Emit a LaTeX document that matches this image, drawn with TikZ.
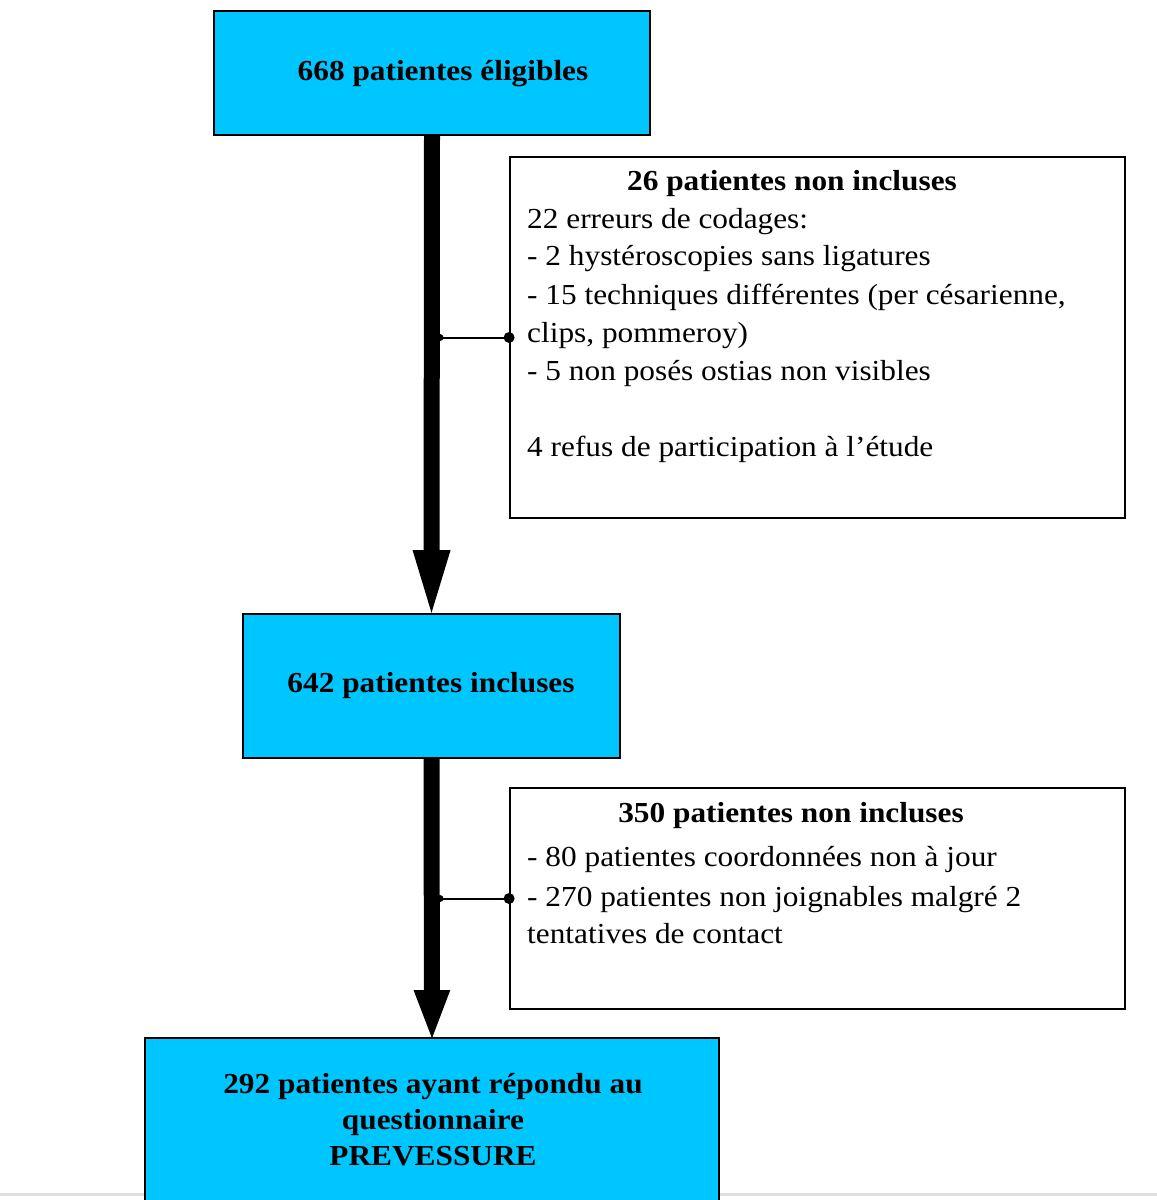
\documentclass[tikz,border=0pt]{standalone}
\usepackage{graphicx}
\usepackage{fontspec}
\setmainfont{Liberation Serif}
\usetikzlibrary{arrows.meta}
\definecolor{boxblue}{RGB}{0,198,255}
\definecolor{pagegrey}{RGB}{222,222,222}
\newcommand{\hstr}[1]{\scalebox{1.08}[1]{#1}}
\begin{document}
\begin{tikzpicture}[x=1pt,y=-1pt,
  bluebox/.style={draw=black, line width=1.8pt, fill=boxblue, inner sep=0pt},
  whitebox/.style={draw=black, line width=1.8pt, fill=white, inner sep=0pt},
  txt/.style={font=\fontsize{29}{37.8}\selectfont, inner sep=0pt, anchor=base west},
  btxt/.style={font=\fontsize{29}{37.8}\selectfont\bfseries, inner sep=0pt, anchor=base},
  flow/.style={line width=16pt},
  link/.style={line width=2pt}]
\useasboundingbox (0,0) rectangle (1157,1200);
\clip (0,0) rectangle (1157,1200);
\fill[white] (0,0) rectangle (1157,1200);
\draw[pagegrey, line width=3pt] (0,1194) -- (1157,1194);

% boxes
\node[bluebox, minimum width=436pt, minimum height=124pt] (b1) at (432,73) {};
\node[whitebox, minimum width=615pt, minimum height=361pt] (b2) at (817.5,337.5) {};
\node[bluebox, minimum width=377pt, minimum height=144pt] (b3) at (431.5,686) {};
\node[whitebox, minimum width=615pt, minimum height=221pt] (b4) at (817.5,898.5) {};
\node[bluebox, minimum width=574pt, minimum height=210pt] (b5) at (432,1143) {};

% texts
\node[btxt] (t1) at (443,80) {\hstr{668 patientes éligibles}};
\node[btxt] (t2h) at (792,190) {\hstr{26 patientes non incluses}};
\node[txt] (t2a) at (527,228) {\hstr{22 erreurs de codages:}};
\node[txt] (t2b) at (527,265) {\hstr{- 2 hystéroscopies sans ligatures}};
\node[txt] (t2c) at (527,304) {\hstr{- 15 techniques différentes (per césarienne,}};
\node[txt] (t2d) at (527,342) {\hstr{clips, pommeroy)}};
\node[txt] (t2e) at (527,380) {\hstr{- 5 non posés ostias non visibles}};
\node[txt] (t2f) at (527,456) {\hstr{4 refus de participation à l'étude}};
\node[btxt] (t3) at (431,692) {\hstr{642 patientes incluses}};
\node[btxt] (t4h) at (791,822) {\hstr{350 patientes non incluses}};
\node[txt] (t4a) at (527,866) {\hstr{- 80 patientes coordonnées non à jour}};
\node[txt] (t4b) at (527,906) {\hstr{- 270 patientes non joignables malgré 2}};
\node[txt] (t4c) at (527,943) {\hstr{tentatives de contact}};
\node[btxt] (t5a) at (433,1093) {\hstr{292 patientes ayant répondu au}};
\node[btxt] (t5b) at (433,1129) {\hstr{questionnaire}};
\node[btxt] (t5c) at (433,1165) {\hstr{PREVESSURE}};

% main flow arrows
\draw[flow, shorten >=-9pt, -{Triangle[length=72pt,width=32pt]}] (b1.south) -- (b3.north);
\draw[flow, shorten >=-5pt, -{Triangle[length=52pt,width=32pt]}] (b3.south) -- (b5.north);

% side connectors
\coordinate (c1) at (440,337.5);
\draw[link] (c1) -- (b2.west);
\fill (c1) circle[radius=3.5pt];
\fill (b2.west) circle[radius=5.5pt];
\coordinate (c2) at (440,898.5);
\draw[link] (c2) -- (b4.west);
\fill (c2) circle[radius=3.5pt];
\fill (b4.west) circle[radius=5.5pt];
\end{tikzpicture}
\end{document}
